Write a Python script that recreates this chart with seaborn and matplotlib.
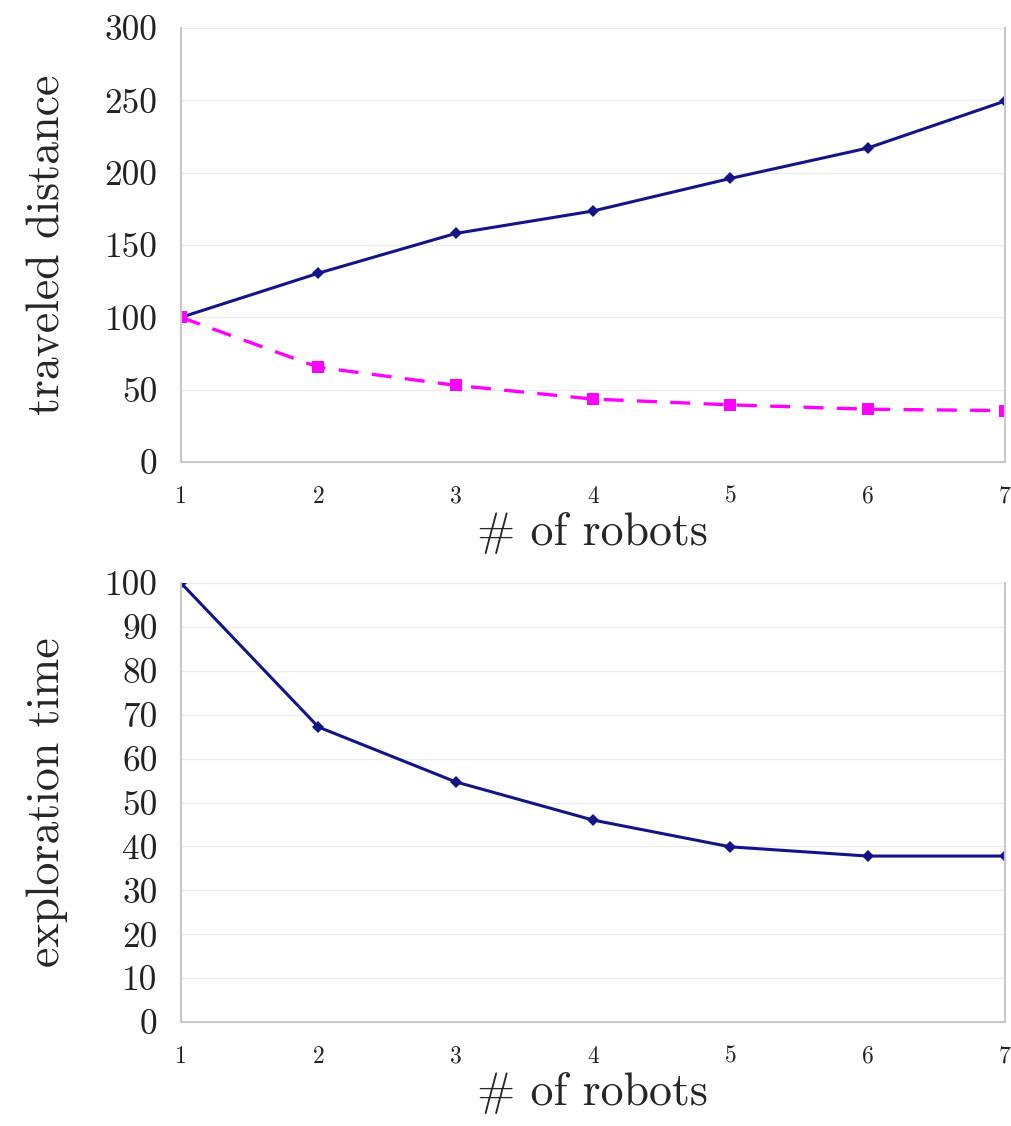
import matplotlib

matplotlib.use("Agg")
import matplotlib.pyplot as plt
import pandas as pd
import seaborn as sns

robots = [1, 2, 3, 4, 5, 6, 7]
distance_total = [100, 130.5, 158, 173.5, 196, 217, 249.5]
distance_each = [100, 65.5, 53, 43.5, 39.5, 36.5, 35.5]
exploration_time = [100, 67.2, 54.7, 46, 39.9, 37.8, 37.8]

sns.set_style("white")
plt.rcParams["font.family"] = ["serif"]
plt.rcParams["font.serif"] = ["cmr10", "DejaVu Serif"]
plt.rcParams["axes.unicode_minus"] = False
plt.rcParams["axes.formatter.use_mathtext"] = False

df_dist = pd.DataFrame({"robots": robots, "total": distance_total, "each": distance_each})
df_time = pd.DataFrame({"robots": robots, "time": exploration_time})

fig = plt.figure(figsize=(10.12, 11.26), dpi=100)
ax1 = fig.add_axes([181 / 1012, 1 - 462 / 1126, 824 / 1012, 434 / 1126])
ax2 = fig.add_axes([181 / 1012, 1 - 1022 / 1126, 824 / 1012, 439 / 1126])

navy = "#14148a"
pink = "#ff00ff"

sns.lineplot(data=df_dist, x="robots", y="total", ax=ax1, color=navy, lw=2.2,
             marker="D", markersize=6, markeredgewidth=0)
sns.lineplot(data=df_dist, x="robots", y="each", ax=ax1, color=pink, lw=2.4,
             marker="s", markersize=9, markeredgewidth=0, dashes=False, linestyle=(0, (6, 4)))
sns.lineplot(data=df_time, x="robots", y="time", ax=ax2, color=navy, lw=2.2,
             marker="D", markersize=6, markeredgewidth=0)

for ax, ymax, step, ylabel in [(ax1, 300, 50, "traveled distance"),
                               (ax2, 100, 10, "exploration time")]:
    ax.set_xlim(1, 7)
    ax.set_ylim(0, ymax)
    ax.set_xticks(robots)
    ax.set_yticks(range(0, ymax + 1, step))
    ax.grid(axis="y", color="#ececec", lw=1)
    ax.spines["top"].set_visible(False)
    for s in ["left", "bottom", "right"]:
        ax.spines[s].set_color("#c8c8c8")
        ax.spines[s].set_linewidth(1.5)
    ax.tick_params(axis="both", direction="out", length=7, width=1.2, color="#c8c8c8")
    ax.tick_params(axis="y", labelsize=25.5, pad=10)
    ax.tick_params(axis="x", labelsize=17, pad=10)
    ax.set_xlabel("# of robots", fontsize=33, labelpad=3)
    ax.set_ylabel(ylabel, fontsize=33, labelpad=26)
    for lab in ax.get_yticklabels() + ax.get_xticklabels():
        lab.set_color("#222222")

fig.savefig("out.png", dpi=100)
